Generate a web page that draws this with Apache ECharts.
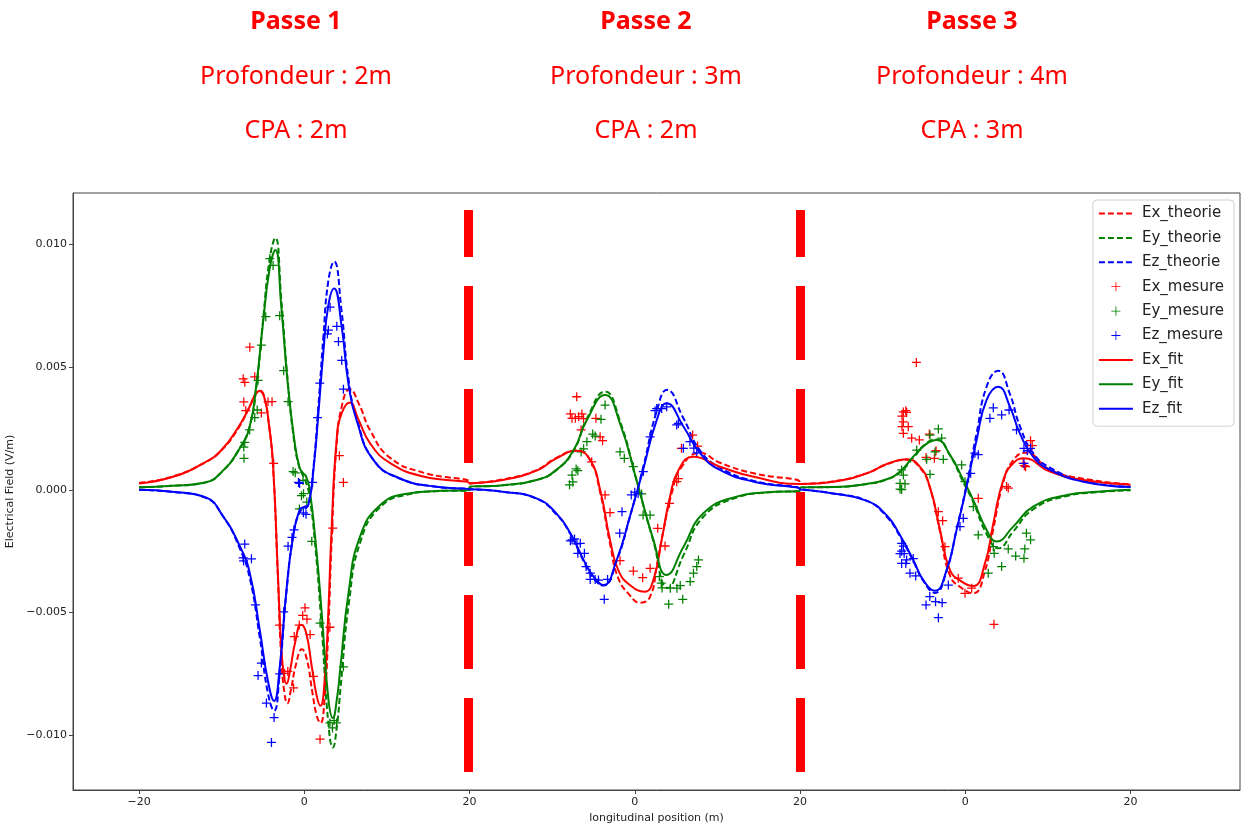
<!DOCTYPE html>
<html>
<head>
<meta charset="utf-8">
<title>Passes 1-3</title>
<script src="https://cdn.jsdelivr.net/npm/echarts@6/dist/echarts.min.js"></script>
<style>
  html, body { margin: 0; padding: 0; background: #fff; }
  #chart { width: 1242px; height: 823px; }
</style>
</head>
<body>
<div id="chart"></div>
<script>
// each pass is plotted in its own local frame (-20..20 m), shifted by its offset
const passOffsets = [0, 40, 80];
const passTitles = ['Passe 1', 'Passe 2', 'Passe 3'];
const depthLabels = ['Profondeur : 2m', 'Profondeur : 3m', 'Profondeur : 4m'];
const cpaLabels = ['CPA : 2m', 'CPA : 2m', 'CPA : 3m'];

const xTickValues = [-20, 0, 20, 40, 60, 80, 100];
const xTickLabels = ['\u221220', '0', '20', '0', '20', '0', '20'];
const yTickValues = [-0.01, -0.005, 0, 0.005, 0.01];
const separatorX = [19.8, 60];
const separatorSpan = [-0.0115, 0.0114];

// Passe 1
const exTheory1 = [[-20,0.00028],[-16,0.00053],[-12,0.00112],[-10,0.00162],[-8,0.0025],[-6.6,0.0034],[-5.9,0.0039],[-5.35,0.004],[-4.8,0.0037],[-4.3,0.0027],[-3.8,0.001],[-3.2,-0.0036],[-2.8,-0.0068],[-2.4,-0.0083],[-2.05,-0.0087],[-1.65,-0.0082],[-1.0,-0.0071],[-0.3,-0.0065],[0.3,-0.0069],[0.95,-0.0082],[1.5,-0.0092],[1.95,-0.0095],[2.45,-0.0085],[2.9,-0.0057],[3.3,-0.0021],[3.9,0.0018],[4.6,0.0035],[5.5,0.0041],[6.6,0.0035],[8,0.0024],[10.4,0.0013],[14.4,0.0007],[20,0.0003]];
const eyTheory1 = [[-20,0.0001],[-16,0.00016],[-12,0.0003],[-10,0.00072],[-7.8,0.0017],[-6.6,0.0026],[-5.8,0.0042],[-5.0,0.0069],[-4.2,0.0094],[-3.5,0.01026],[-2.8,0.0078],[-2.0,0.0044],[-1.2,0.0019],[-0.6,0.0009],[-0.2,0.0006],[0.2,0.0003],[0.6,-0.0002],[1.3,-0.0022],[2.1,-0.0056],[2.9,-0.0095],[3.45,-0.0105],[3.95,-0.0096],[4.4,-0.008],[5.4,-0.0046],[6.8,-0.0021],[9.2,-0.0007],[12.4,-0.0002],[16,-0.00006],[20,-0.00002]];
const ezTheory1 = [[-20,0],[-16,-0.00009],[-12,-0.00032],[-9.8,-0.0011],[-7.8,-0.0024],[-6.6,-0.0036],[-5.4,-0.006],[-4.4,-0.0083],[-3.66,-0.009],[-3.0,-0.0075],[-2.2,-0.0043],[-1.36,-0.0019],[-0.55,-0.0009],[0,-0.0008],[0.5,-0.0006],[1.1,0.0009],[1.7,0.0034],[2.3,0.0062],[2.9,0.0085],[3.6,0.0093],[4.5,0.0073],[5.35,0.0045],[6.35,0.0029],[8.4,0.0012],[11.6,0.00045],[16,0.00012],[20,0.00002]];
const exFit1 = [[-20,0.00026],[-16,0.00052],[-12,0.00112],[-10,0.00163],[-8,0.00255],[-6.6,0.0034],[-5.9,0.0039],[-5.35,0.00403],[-4.8,0.0037],[-4.3,0.0027],[-3.8,0.0011],[-3.2,-0.0034],[-2.8,-0.0064],[-2.45,-0.0076],[-2.15,-0.0079],[-1.75,-0.0074],[-1.1,-0.0062],[-0.4,-0.0055],[0.2,-0.0058],[0.9,-0.0072],[1.5,-0.0084],[1.95,-0.0088],[2.45,-0.0078],[2.9,-0.005],[3.3,-0.0016],[3.9,0.002],[4.5,0.0031],[5.5,0.00356],[6.5,0.0029],[8,0.00187],[10.4,0.00109],[14.4,0.00054],[20,0.00026]];
const eyFit1 = [[-20,0.0001],[-16,0.00016],[-12,0.0003],[-10,0.00073],[-7.8,0.0017],[-6.6,0.0026],[-5.8,0.0043],[-5.0,0.0068],[-4.2,0.009],[-3.5,0.00977],[-2.8,0.0075],[-2.0,0.0043],[-1.2,0.002],[-0.6,0.00093],[-0.2,0.0007],[0.2,0.00055],[0.6,0.0001],[1.3,-0.0019],[2.1,-0.005],[2.9,-0.0085],[3.45,-0.0093],[3.95,-0.0085],[4.35,-0.0073],[5.35,-0.0042],[6.75,-0.0019],[9.2,-0.00062],[12.4,-0.00016],[16,-0.00005],[20,-0.00001]];
const ezFit1 = [[-20,0],[-16,-0.00008],[-12,-0.0003],[-9.8,-0.0011],[-7.8,-0.0023],[-6.6,-0.0034],[-5.4,-0.0057],[-4.4,-0.0078],[-3.66,-0.0086],[-3.0,-0.0073],[-2.2,-0.0042],[-1.36,-0.0019],[-0.55,-0.0008],[0,-0.0007],[0.5,-0.0006],[1.1,0.0008],[1.7,0.0031],[2.3,0.0056],[2.9,0.0075],[3.6,0.0082],[4.5,0.0067],[5.35,0.0043],[6.35,0.0028],[8.4,0.0012],[11.6,0.00046],[16,0.00012],[20,0.00002]];
const exMes1 = [[-7.4,0.00452],[-7.2,0.00438],[-6.6,0.00581],[-6.0,0.0046],[-7.33,0.00358],[-7.09,0.00322],[-5.2,0.00313],[-4.4,0.00359],[-3.91,0.00359],[-3.71,0.00108],[-3.0,-0.00551],[-2.39,-0.00748],[-2.0,-0.0074],[-1.3,-0.00807],[-1.22,-0.00598],[-0.61,-0.00551],[-0.2,-0.00512],[0.08,-0.00481],[0.32,-0.00527],[0.7,-0.0059],[1.1,-0.0076],[1.9,-0.01016],[3.1,-0.0056],[3.44,-0.00156],[4.24,0.00139],[4.73,0.0003]];
const eyMes1 = [[-4.18,0.00942],[-3.78,0.00914],[-4.67,0.00705],[-2.98,0.00709],[-5.2,0.00589],[-2.5,0.00485],[-5.6,0.00446],[-1.97,0.00359],[-5.7,0.00325],[-6.0,0.00294],[-6.62,0.00244],[-7.21,0.00193],[-7.33,0.00174],[-7.3,0.00128],[-1.36,0.00074],[-1.1,0.00069],[-0.15,0.00038],[-0.35,-0.00024],[-0.6,-0.00078],[-0.1,-0.00016],[0.3,-0.0005],[0.9,-0.0021],[1.9,-0.00543],[4.73,-0.00721],[3.1,-0.0095],[3.4,-0.0097],[3.6,-0.0094],[3.9,-0.0095]];
const ezMes1 = [[-7.21,-0.00221],[-7.41,-0.00277],[-7.35,-0.0029],[-6.4,-0.00281],[-5.92,-0.00469],[-5.2,-0.00706],[-5.6,-0.00757],[-4.59,-0.00869],[-3.66,-0.00928],[-3.98,-0.01029],[-2.98,-0.0075],[-2.5,-0.00497],[-1.97,-0.0023],[-1.49,-0.00194],[-1.25,-0.00163],[-0.57,0.00026],[-0.71,0.0003],[-0.11,-0.00094],[0.2,-0.001],[1.0,0.0003],[1.6,0.00294],[1.87,0.00434],[2.79,0.00635],[2.91,0.0065],[3.12,0.00744],[3.93,0.00666],[4.13,0.00604],[4.53,0.00527],[4.73,0.0041]];

// Passe 2
const exTheory2 = [[-20,0.00026],[-16,0.00042],[-11.9,0.0008],[-9.5,0.0013],[-7.0,0.0016],[-5.4,0.0012],[-4.2,-0.0001],[-3.0,-0.0022],[-2.0,-0.0036],[-0.6,-0.0043],[0.6,-0.0046],[1.85,-0.00435],[2.65,-0.0031],[3.5,-0.0016],[4.5,-0.0001],[5.6,0.0009],[7.9,0.0015],[10.3,0.0011],[14.4,0.00067],[20,0.0003]];
const eyTheory2 = [[-20,0.0001],[-16,0.00018],[-11.9,0.0004],[-9.5,0.0008],[-7.4,0.0016],[-5.8,0.0029],[-3.6,0.004],[-1.8,0.0028],[0.2,0.0004],[2.25,-0.0021],[4.0,-0.004],[5.9,-0.00266],[8.3,-0.0011],[12.3,-0.00032],[16,-0.00011],[20,-0.00003]];
const ezTheory2 = [[-20,0],[-16,-0.00008],[-11.9,-0.00036],[-9.5,-0.001],[-7.8,-0.0018],[-6.2,-0.0029],[-5.0,-0.0036],[-3.8,-0.0039],[-2.2,-0.0029],[-0.6,-0.0011],[1.0,0.0009],[2.65,0.0032],[3.9,0.00407],[5.9,0.0029],[7.9,0.0016],[10.3,0.0009],[14.4,0.00036],[20,0.00002]];
const exFit2 = [[-20,0.00024],[-16,0.0004],[-11.9,0.00078],[-9.5,0.00128],[-7.0,0.00159],[-5.4,0.00121],[-4.2,0],[-3.0,-0.00204],[-2.0,-0.00327],[-0.6,-0.00388],[1.2,-0.00415],[2.25,-0.00367],[3.25,-0.00204],[4.26,-0.00028],[5.3,0.00081],[7.1,0.00135],[10.3,0.00094],[14.4,0.00053],[20,0.00024]];
const eyFit2 = [[-20,0.0001],[-16,0.00018],[-11.9,0.0004],[-9.5,0.00081],[-7.4,0.00162],[-5.8,0.00284],[-3.6,0.00386],[-1.8,0.00271],[0.2,0.0004],[2.25,-0.00204],[3.86,-0.00347],[5.9,-0.00232],[8.3,-0.00096],[12.3,-0.00028],[16,-0.0001],[20,-0.00002]];
const ezFit2 = [[-20,0],[-16,-0.00008],[-11.9,-0.00035],[-9.5,-0.00096],[-7.8,-0.00177],[-6.2,-0.00286],[-5.0,-0.00354],[-3.8,-0.00388],[-2.2,-0.00286],[-0.6,-0.0011],[1.0,0.00081],[2.65,0.00284],[3.86,0.00352],[5.9,0.00257],[7.9,0.00149],[10.3,0.00081],[14.4,0.00033],[20,0.00001]];
const exMes2 = [[-7.03,0.00379],[-7.8,0.00309],[-7.6,0.00291],[-7.2,0.00291],[-6.8,0.00298],[-6.4,0.00309],[-6.2,0.0029],[-4.71,0.00291],[-6.5,0.00244],[-4.2,0.00216],[-3.9,0.002],[-5.22,0.00114],[-3.6,-0.00021],[-3.0,-0.00093],[-1.79,-0.00289],[-0.18,-0.00331],[0.95,-0.00358],[1.85,-0.0032],[2.77,-0.00157],[3.66,-0.00229],[4.2,-0.00055],[5.07,0.00033],[5.27,0.00045],[5.64,0.00169],[7.0,0.00223],[7.6,0.00178]];
const eyMes2 = [[-3.6,0.00345],[-4.09,0.00287],[-5.1,0.00227],[-4.8,0.00219],[-5.8,0.00196],[-6.5,0.00154],[-6.2,0.00167],[-7.1,0.00085],[-6.9,0.00078],[-7.6,0.0006],[-7.5,0.00032],[-7.9,0.0002],[-1.79,0.00154],[-1.27,0.00128],[-0.18,0.00094],[0.83,-0.00017],[1.0,-0.00103],[1.85,-0.00103],[2.97,-0.00354],[3.2,-0.0038],[3.3,-0.004],[4.3,-0.00401],[5.1,-0.00401],[5.5,-0.0039],[4.1,-0.00466],[5.8,-0.00446],[6.7,-0.00374],[7.1,-0.0034],[7.5,-0.00313],[7.7,-0.00286]];
const ezMes2 = [[-7.6,-0.00204],[-7.3,-0.002],[-7.8,-0.00208],[-7.0,-0.0022],[-6.6,-0.00218],[-6.9,-0.00259],[-6.1,-0.00259],[-5.9,-0.00313],[-5.4,-0.0034],[-5.4,-0.00365],[-4.8,-0.00365],[-4.4,-0.00368],[-3.7,-0.00446],[-3.3,-0.00365],[-1.83,-0.00177],[-1.55,-0.00089],[-0.43,-0.00021],[0,-0.0001],[0.4,-0.00015],[1.03,0.00074],[1.85,0.00216],[2.45,0.00322],[2.65,0.00331],[3.25,0.00331],[3.86,0.00338],[5.07,0.00264],[5.27,0.0027],[5.87,0.00169],[6.67,0.00196],[7.15,0.0017],[7.5,0.0015]];

// Passe 3
const exTheory3 = [[-20,0.00024],[-16,0.00034],[-11.9,0.00068],[-9.5,0.00104],[-7.1,0.00122],[-5.5,0.0009],[-4.3,0.0001],[-3.06,-0.0017],[-1.85,-0.0035],[-0.44,-0.004],[0.97,-0.00422],[2.38,-0.0033],[3.39,-0.0016],[4.6,0.0003],[5.8,0.0012],[7.3,0.00151],[10.25,0.00082],[14.3,0.00045],[20,0.00022]];
const eyTheory3 = [[-20,0.0001],[-16,0.00011],[-11.9,0.00024],[-9.5,0.00042],[-7.9,0.00072],[-6.3,0.0013],[-4.7,0.0019],[-3.46,0.00205],[-1.85,0.0014],[-0.24,0.0003],[0.97,-0.0005],[2.58,-0.0018],[4.0,-0.00238],[5.8,-0.0017],[8.2,-0.0008],[12.3,-0.00025],[16,-0.0001],[20,-0.00002]];
const ezTheory3 = [[-20,0],[-16,-0.00015],[-11.9,-0.00045],[-9.5,-0.0011],[-7.9,-0.0019],[-6.3,-0.0029],[-5.1,-0.0037],[-3.67,-0.0042],[-2.26,-0.0033],[-1.05,-0.0016],[0.16,0.0002],[1.37,0.0023],[2.58,0.0042],[3.99,0.00485],[5.4,0.0039],[6.6,0.0026],[8.2,0.0015],[10.25,0.0009],[14.3,0.00036],[20,0.00012]];
const exFit3 = [[-20,0.00024],[-16,0.00033],[-11.9,0.00067],[-9.5,0.00105],[-7.1,0.00124],[-5.5,0.00094],[-4.3,0.00013],[-3.06,-0.00164],[-1.85,-0.00327],[-0.44,-0.00374],[0.97,-0.00392],[2.38,-0.003],[3.39,-0.00137],[4.6,0.0004],[5.8,0.00108],[7.1,0.00128],[10.25,0.00074],[14.3,0.0004],[20,0.0002]];
const eyFit3 = [[-20,0.0001],[-16,0.00011],[-11.9,0.00024],[-9.5,0.00043],[-7.9,0.00074],[-6.3,0.00135],[-4.7,0.00187],[-3.46,0.00203],[-1.85,0.00142],[-0.24,0.0004],[0.97,-0.00042],[2.58,-0.00164],[3.79,-0.00211],[5.8,-0.0015],[8.2,-0.00069],[12.3,-0.00021],[16,-0.00008],[20,0]];
const ezFit3 = [[-20,0],[-16,-0.00015],[-11.9,-0.00045],[-9.5,-0.00105],[-7.9,-0.00185],[-6.3,-0.00286],[-5.1,-0.00367],[-3.67,-0.00411],[-2.26,-0.00327],[-1.05,-0.00164],[0.16,0.00013],[1.37,0.00203],[2.58,0.00366],[3.99,0.0042],[5.4,0.00339],[6.6,0.0023],[8.2,0.00135],[10.25,0.00081],[14.3,0.00033],[20,0.00011]];
const exMes3 = [[-5.92,0.00519],[-7.5,0.00317],[-7.2,0.00322],[-7.1,0.00315],[-7.66,0.003],[-7.5,0.00277],[-7.66,0.00257],[-6.9,0.00257],[-7.5,0.0023],[-6.49,0.0021],[-5.56,0.00203],[-4.35,0.00227],[-4.75,0.00132],[-3.74,0.00128],[-3.54,0.00159],[-3.26,-0.00089],[-2.74,-0.00126],[-2.46,-0.00232],[-0.85,-0.0036],[-0.04,-0.00422],[0.77,-0.00401],[1.57,-0.00035],[3.47,-0.00548],[5.0,0.00013],[5.2,0.00007],[7.0,0.00108],[7.3,0.00094],[7.15,0.00098],[7.9,0.002],[8.1,0.0018]];
const eyMes3 = [[-3.26,0.00248],[-4.27,0.00223],[-2.86,0.0021],[-5.88,0.00162],[-3.66,0.00154],[-2.66,0.00124],[-4.67,0.00124],[-4.27,0.00063],[-0.44,0.00101],[-7.7,0.00081],[-7.5,0.0006],[-7.9,0.00026],[-7.3,0.00024],[-7.9,0.00003],[-7.7,0.00001],[-0.04,0.00033],[0.97,-0.00069],[1.57,-0.00184],[2.78,-0.0034],[3.39,-0.00232],[3.5,-0.00259],[4.4,-0.00313],[5.2,-0.00241],[6.1,-0.0027],[7.1,-0.00279],[7.2,-0.00241],[7.4,-0.00177],[7.9,-0.00204]];
const ezMes3 = [[-7.7,-0.00218],[-7.5,-0.0023],[-7.7,-0.0025],[-7.9,-0.0026],[-7.4,-0.0026],[-7.1,-0.00286],[-7.7,-0.003],[-7.2,-0.003],[-6.3,-0.0028],[-6.7,-0.0034],[-6.0,-0.00351],[-4.3,-0.00435],[-3.6,-0.00456],[-2.8,-0.0046],[-4.75,-0.00469],[-3.26,-0.00521],[-2.05,-0.00388],[-0.64,-0.0015],[-0.24,-0.00116],[0.65,0.00067],[1.16,0.00149],[1.57,0.00143],[3.39,0.00334],[2.98,0.00291],[4.4,0.00305],[5.3,0.00325],[6.2,0.00244],[7.1,0.00169],[7.5,0.00159],[7.9,0.00169],[7.1,0.00108]];

const RED = '#ff0000', GREEN = '#008000', BLUE = '#0000ff';
const PLUS = 'path://M4.3,0H5.7V4.3H10V5.7H5.7V10H4.3V5.7H0V4.3H4.3Z';
// same cross with tiny corner dots so the legend keeps it small
const PLUS_LEGEND = 'path://M0,0H0.01V0.01H0Z M20,20H20.01V20.01H20Z M9.4,3.5H10.6V9.4H16.5V10.6H10.6V16.5H9.4V10.6H3.5V9.4H9.4Z';

// shift the three passes into one shared x range
function joinPasses(p1, p2, p3) {
  return [p1, p2, p3].flatMap((pts, i) => pts.map(([x, y]) => [x + passOffsets[i], y]));
}

function curve(name, color, pts, dashed) {
  return {
    name, type: 'line', data: pts,
    showSymbol: false, symbol: 'none', smooth: 0.5,
    lineStyle: { color, width: 2, type: dashed ? [6, 3] : 'solid' },
    itemStyle: { color },
    z: dashed ? 2 : 4
  };
}

function measures(name, color, pts) {
  return {
    name, type: 'scatter', data: pts,
    symbol: PLUS, symbolSize: 9,
    itemStyle: { color, opacity: 1 },
    z: 3
  };
}

const chart = echarts.init(document.getElementById('chart'));

const titleX = [296, 646, 972];
const graphics = [];
passTitles.forEach((t, i) => {
  graphics.push({ type: 'text', x: titleX[i], y: 22, style: { text: t, align: 'center', verticalAlign: 'middle', fontFamily: 'Noto Sans', fontWeight: 'bold', fontSize: 25, fill: RED } });
  graphics.push({ type: 'text', x: titleX[i], y: 77, style: { text: depthLabels[i], align: 'center', verticalAlign: 'middle', fontFamily: 'Noto Sans', fontSize: 25, fill: RED } });
  graphics.push({ type: 'text', x: titleX[i], y: 131, style: { text: cpaLabels[i], align: 'center', verticalAlign: 'middle', fontFamily: 'Noto Sans', fontSize: 25, fill: RED } });
});

const noMarker = { opacity: 0 };

const option = {
  animation: false,
  backgroundColor: '#fff',
  graphic: graphics,
  grid: {
    left: 73, right: 2, top: 193, bottom: 33,
    outerBoundsMode: 'none', containLabel: false,
    show: true, borderColor: '#444', borderWidth: 1, backgroundColor: 'transparent'
  },
  legend: {
    orient: 'vertical', right: 8, top: 200,
    itemWidth: 34, itemHeight: 14, itemGap: 9.4,
    selectedMode: false,
    data: [
      { name: 'Ex_theorie', itemStyle: noMarker },
      { name: 'Ey_theorie', itemStyle: noMarker },
      { name: 'Ez_theorie', itemStyle: noMarker },
      { name: 'Ex_mesure', icon: PLUS_LEGEND },
      { name: 'Ey_mesure', icon: PLUS_LEGEND },
      { name: 'Ez_mesure', icon: PLUS_LEGEND },
      { name: 'Ex_fit', itemStyle: noMarker },
      { name: 'Ey_fit', itemStyle: noMarker },
      { name: 'Ez_fit', itemStyle: noMarker }
    ],
    textStyle: { fontFamily: 'DejaVu Sans', fontSize: 15, color: '#222', padding: [0, 0, 0, 4] },
    backgroundColor: 'rgba(255,255,255,0.85)', borderColor: '#d0d0d0', borderWidth: 1, borderRadius: 4,
    padding: [6, 10, 10, 5]
  },
  xAxis: {
    type: 'value', min: -28, max: 113.25,
    name: 'longitudinal position (m)', nameLocation: 'middle', nameGap: 19,
    nameTextStyle: { fontFamily: 'DejaVu Sans', fontSize: 11, color: '#222' },
    axisLine: { show: true, onZero: false, lineStyle: { color: '#444' } },
    axisTick: { show: true, length: 4, customValues: xTickValues, lineStyle: { color: '#444' } },
    axisLabel: {
      customValues: xTickValues, margin: 7,
      fontFamily: 'DejaVu Sans', fontSize: 11, color: '#222',
      formatter: v => xTickLabels[xTickValues.indexOf(v)]
    },
    splitLine: { show: false }
  },
  yAxis: {
    type: 'value', min: -0.01223, max: 0.01209,
    name: 'Electrical Field (V/m)', nameLocation: 'middle', nameGap: 47, nameRotate: 90,
    nameTextStyle: { fontFamily: 'DejaVu Sans', fontSize: 11, color: '#222' },
    axisLine: { show: true, onZero: false, lineStyle: { color: '#444' } },
    axisTick: { show: true, length: 4, customValues: yTickValues, lineStyle: { color: '#444' } },
    axisLabel: {
      customValues: yTickValues, margin: 6,
      fontFamily: 'DejaVu Sans', fontSize: 11, color: '#222',
      formatter: v => (v < 0 ? '\u2212' : '') + Math.abs(v).toFixed(3)
    },
    splitLine: { show: false }
  },
  series: [
    curve('Ex_theorie', RED, joinPasses(exTheory1, exTheory2, exTheory3), true),
    curve('Ey_theorie', GREEN, joinPasses(eyTheory1, eyTheory2, eyTheory3), true),
    curve('Ez_theorie', BLUE, joinPasses(ezTheory1, ezTheory2, ezTheory3), true),
    measures('Ex_mesure', RED, joinPasses(exMes1, exMes2, exMes3)),
    measures('Ey_mesure', GREEN, joinPasses(eyMes1, eyMes2, eyMes3)),
    measures('Ez_mesure', BLUE, joinPasses(ezMes1, ezMes2, ezMes3)),
    curve('Ex_fit', RED, joinPasses(exFit1, exFit2, exFit3), false),
    curve('Ey_fit', GREEN, joinPasses(eyFit1, eyFit2, eyFit3), false),
    curve('Ez_fit', BLUE, joinPasses(ezFit1, ezFit2, ezFit3), false),
    {
      name: 'separators', type: 'line', data: [], z: 10,
      markLine: {
        silent: true, symbol: 'none', label: { show: false },
        lineStyle: { color: RED, width: 9, type: [74, 29], cap: 'butt' },
        emphasis: { disabled: true },
        data: separatorX.map(x => [{ coord: [x, separatorSpan[0]] }, { coord: [x, separatorSpan[1]] }])
      }
    }
  ]
};

chart.setOption(option);
</script>
</body>
</html>
